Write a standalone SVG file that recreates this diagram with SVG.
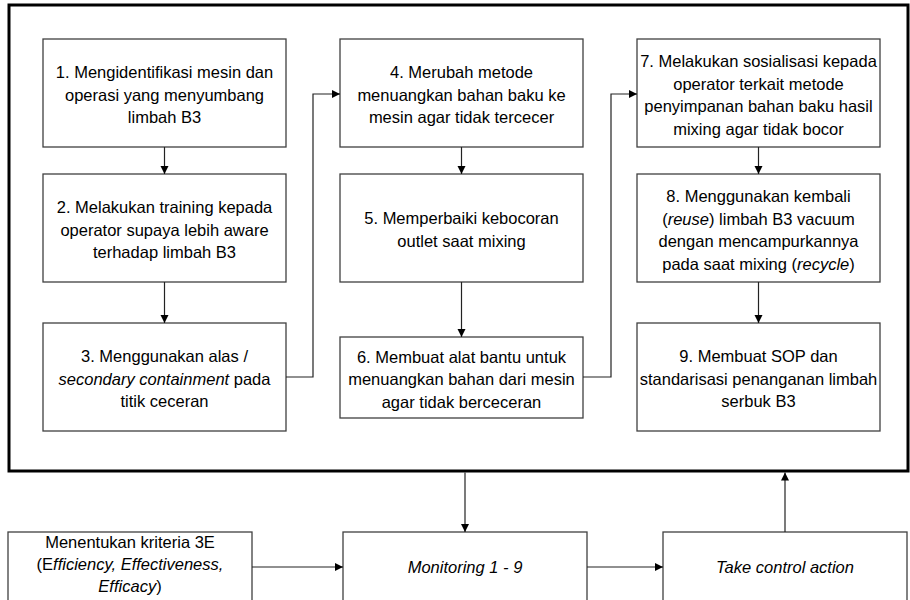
<svg xmlns="http://www.w3.org/2000/svg" width="910" height="600" viewBox="0 0 910 600">
<style>
.box{fill:#fff;stroke:#404040;stroke-width:1.3}
.frame{fill:none;stroke:#000;stroke-width:3}
.t{font-family:"Liberation Sans",Arial,sans-serif;font-size:16.5px;fill:#000;text-anchor:middle}
.i{font-style:italic}
.c{fill:none;stroke:#222;stroke-width:1.2}
</style>
<defs>
<marker id="ah" markerUnits="userSpaceOnUse" markerWidth="9" markerHeight="9" refX="8" refY="4" orient="auto">
<path d="M0,0 L8,4 L0,8 z" fill="#000"/>
</marker>
</defs>
<rect width="910" height="600" fill="#fff"/>
<rect id="frame" class="frame" x="9" y="5" width="899" height="466"/>

<g id="n1"><rect class="box" x="43" y="39" width="243" height="108"/>
<text class="t" x="164.5" y="78">1. Mengidentifikasi mesin dan</text>
<text class="t" x="164.5" y="100.5">operasi yang menyumbang</text>
<text class="t" x="164.5" y="123">limbah B3</text></g>

<g id="n2"><rect class="box" x="43" y="174" width="243" height="108"/>
<text class="t" x="164.5" y="213">2. Melakukan training kepada</text>
<text class="t" x="164.5" y="235.5">operator supaya lebih aware</text>
<text class="t" x="164.5" y="258">terhadap limbah B3</text></g>

<g id="n3"><rect class="box" x="43" y="323" width="243" height="108"/>
<text class="t" x="164.5" y="362">3. Menggunakan alas /</text>
<text class="t" x="164.5" y="384.5"><tspan class="i">secondary containment</tspan> pada</text>
<text class="t" x="164.5" y="407">titik ceceran</text></g>

<g id="n4"><rect class="box" x="340" y="39" width="243" height="108"/>
<text class="t" x="461.5" y="78">4. Merubah metode</text>
<text class="t" x="461.5" y="100.5">menuangkan bahan baku ke</text>
<text class="t" x="461.5" y="123">mesin agar tidak tercecer</text></g>

<g id="n5"><rect class="box" x="340" y="174" width="243" height="108"/>
<text class="t" x="461.5" y="224">5. Memperbaiki kebocoran</text>
<text class="t" x="461.5" y="247">outlet saat mixing</text></g>

<g id="n6"><rect class="box" x="340" y="337" width="243" height="81"/>
<text class="t" x="461.5" y="362.5">6. Membuat alat bantu untuk</text>
<text class="t" x="461.5" y="385">menuangkan bahan dari mesin</text>
<text class="t" x="461.5" y="407.5">agar tidak berceceran</text></g>

<g id="n7"><rect class="box" x="637" y="39" width="243" height="108"/>
<text class="t" x="758.5" y="67">7. Melakukan sosialisasi kepada</text>
<text class="t" x="758.5" y="89.5">operator terkait metode</text>
<text class="t" x="758.5" y="112">penyimpanan bahan baku hasil</text>
<text class="t" x="758.5" y="134.5">mixing agar tidak bocor</text></g>

<g id="n8"><rect class="box" x="637" y="174" width="243" height="108"/>
<text class="t" x="758.5" y="202">8. Menggunakan kembali</text>
<text class="t" x="758.5" y="224.5">(<tspan class="i">reuse</tspan>) limbah B3 vacuum</text>
<text class="t" x="758.5" y="247">dengan mencampurkannya</text>
<text class="t" x="758.5" y="269.5">pada saat mixing (<tspan class="i">recycle</tspan>)</text></g>

<g id="n9"><rect class="box" x="637" y="323" width="243" height="108"/>
<text class="t" x="758.5" y="362">9. Membuat SOP dan</text>
<text class="t" x="758.5" y="384.5">standarisasi penanganan limbah</text>
<text class="t" x="758.5" y="407">serbuk B3</text></g>

<g id="n10"><rect class="box" x="8" y="532" width="244" height="75"/>
<text class="t" x="130" y="548">Menentukan kriteria 3E</text>
<text class="t" x="130" y="570">(E<tspan class="i">fficiency, Effectiveness,</tspan></text>
<text class="t" x="130" y="592"><tspan class="i">Efficacy</tspan>)</text></g>

<g id="n11"><rect class="box" x="343" y="532" width="244" height="75"/>
<text class="t i" x="465" y="573">Monitoring 1 - 9</text></g>

<g id="n12"><rect class="box" x="663" y="532" width="244" height="75"/>
<text class="t i" x="785" y="573">Take control action</text></g>

<g id="connectors">
<path class="c" d="M164.5,147 V174" marker-end="url(#ah)"/>
<path class="c" d="M164.5,282 V323" marker-end="url(#ah)"/>
<path class="c" d="M461.5,147 V174" marker-end="url(#ah)"/>
<path class="c" d="M461.5,282 V337" marker-end="url(#ah)"/>
<path class="c" d="M758.5,147 V174" marker-end="url(#ah)"/>
<path class="c" d="M758.5,282 V323" marker-end="url(#ah)"/>
<path class="c" d="M286,377 H313 V94 H340" marker-end="url(#ah)"/>
<path class="c" d="M583,377 H611 V94 H637" marker-end="url(#ah)"/>
<path class="c" d="M465,472.5 V532" marker-end="url(#ah)"/>
<path class="c" d="M785,532 V472.5" marker-end="url(#ah)"/>
<path class="c" d="M252,567 H343" marker-end="url(#ah)"/>
<path class="c" d="M587,567 H663" marker-end="url(#ah)"/>
</g>
</svg>
